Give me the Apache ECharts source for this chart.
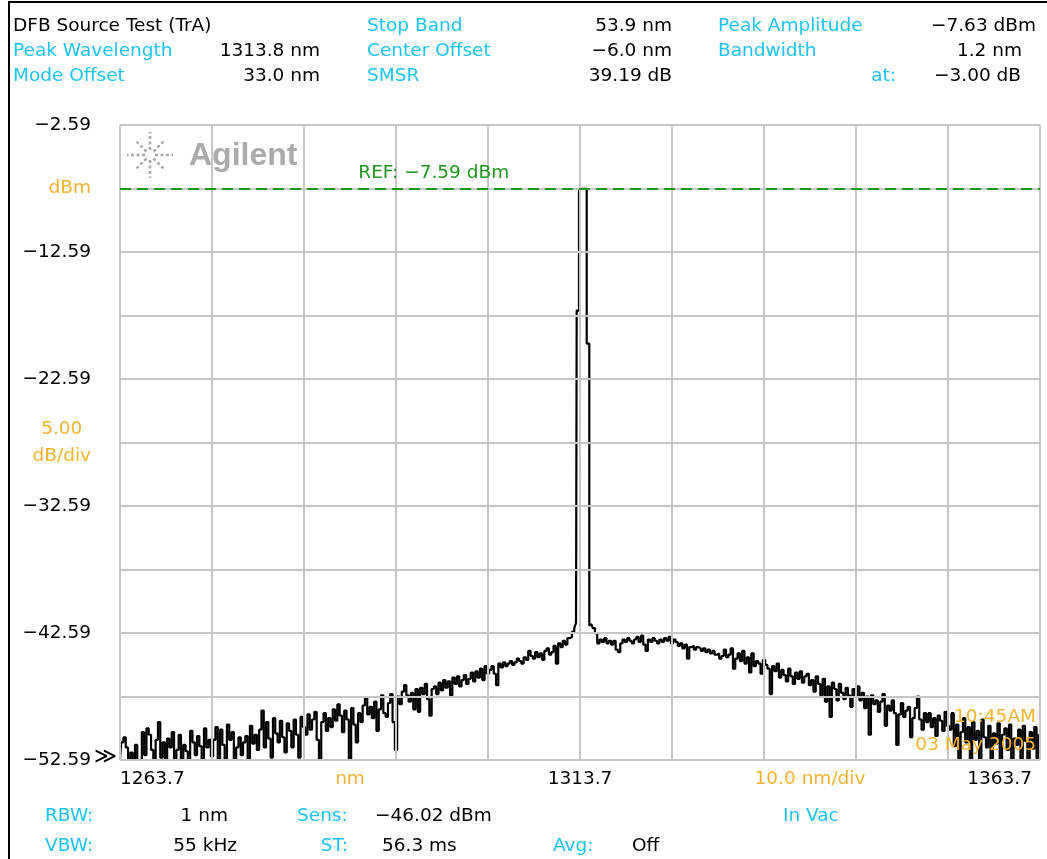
<!DOCTYPE html>
<html>
<head>
<meta charset="utf-8">
<script src="https://cdn.jsdelivr.net/npm/echarts@6/dist/echarts.min.js"></script>
<style>
  html, body { margin: 0; padding: 0; background: #fff; }
  #chart { width: 1047px; height: 859px; }
</style>
</head>
<body>
<div id="chart"></div>
<script>
// ---- axis definitions ----
const xMin = 1263.7, xMax = 1363.7;
const yMin = -52.59, yMax = -2.59;
const xGridTicks = [1263.7, 1273.7, 1283.7, 1293.7, 1303.7, 1313.7, 1323.7, 1333.7, 1343.7, 1353.7, 1363.7];
const yGridTicks = [-52.59, -47.59, -42.59, -37.59, -32.59, -27.59, -22.59, -17.59, -12.59, -7.59, -2.59];
const xLabelValues = [1263.7, 1288.7, 1313.7, 1338.7, 1363.7];
const xLabelTexts = ['1263.7', 'nm', '1313.7', '10.0 nm/div', '1363.7'];
const yLabelValues = [-52.59, -42.59, -32.59, -27.59, -22.59, -12.59, -7.59, -2.59];
const refLevel = -7.59;

// ---- trace data (dBm), sampled every 0.25 nm ----
const sampleStep = 0.25;
const leftStart = 1263.7;
const leftDb = [
  -52.6, -51.2, -50.8, -51.6, -52.6, -52.0, -52.6, -51.4, -52.6, -52.6,
  -50.4, -52.2, -50.1, -50.6, -51.8, -52.6, -51.0, -49.6, -52.4, -51.2,
  -52.6, -50.9, -51.6, -50.4, -52.6, -51.8, -50.6, -52.6, -51.4, -51.9,
  -52.6, -50.3, -51.2, -52.2, -50.7, -51.5, -52.6, -50.1, -51.6, -51.0,
  -52.3,
  -51.0, -50.0, -52.6, -50.2, -51.4, -52.6, -49.8, -51.0, -50.4, -52.6,
  -51.6, -50.8, -52.2, -51.2, -50.7, -52.6, -49.9, -51.3, -50.6, -51.8,
  -50.2, -48.7, -51.6, -49.6, -50.9, -52.4, -49.3, -50.5, -51.2, -49.5,
  -50.8, -52.0, -49.7, -50.3, -51.6, -49.4, -50.6, -52.4, -49.2, -50.0,
  -50.6, -49.0, -50.2, -49.4, -48.8, -51.0, -52.6, -49.6, -48.9, -50.3,
  -49.3, -50.0, -48.6, -49.5, -48.2, -49.1, -50.4, -48.7, -49.4, -52.6,
  -48.5, -49.8, -51.2, -48.9, -49.6, -48.3, -47.7, -49.0, -48.4, -49.3,
  -48.0, -50.3, -48.6, -47.5, -48.9, -49.2, -48.1, -47.4, -49.6, -51.8,
  -47.6, -48.2, -47.2, -46.7, -47.5, -48.0, -47.3, -48.6, -47.0, -48.8,
  -46.9, -47.4, -46.6, -47.8, -49.1, -47.0, -46.8, -47.4, -46.5, -47.1,
  -46.3, -46.9, -46.4, -47.5, -46.1, -46.6, -46.0, -46.8, -46.3, -45.9,
  -46.6, -46.2, -45.7, -46.4, -45.6, -46.1, -45.4, -46.3, -45.2, -45.8,
  -45.5, -45.2, -45.8, -46.7, -45.0, -45.3, -44.9, -45.2, -45.0, -44.8,
  -45.1, -44.9, -44.6, -44.8, -45.0, -44.5, -44.7, -44.0, -44.4, -44.6,
  -44.1, -44.5, -44.2, -44.7, -44.0, -43.8, -44.3, -44.1, -43.6, -45.0,
  -43.4, -43.7, -43.2, -43.5, -43.0, -42.9, -42.5, -42.2
];
const peakWl = [1313.34, 1313.34, 1313.59, 1313.59, 1314.43, 1314.43, 1314.71, 1314.71];
const peakDb = [-41.8, -17.2, -17.2, -7.62, -7.62, -19.8, -19.8, -42.0];
const rightStart = 1314.95;
const rightDb = [
  -41.9, -42.2, -42.6, -43.4, -43.1, -43.3, -43.0, -43.4, -43.2, -43.5,
  -43.2, -43.9, -44.1, -43.4, -43.1, -43.3, -43.0, -43.2, -43.4, -43.1,
  -42.9, -43.3, -42.8, -43.5, -44.0, -43.1, -43.3, -43.0, -43.2, -43.4,
  -43.1, -43.3, -43.0, -43.2, -42.9, -43.4, -43.1, -43.3, -43.6, -43.4,
  -43.8, -43.5, -44.6, -43.7, -43.6, -43.9, -43.7, -43.8, -44.0, -43.8,
  -44.1, -43.9, -44.2, -44.0, -44.3, -44.2, -44.6, -44.4, -43.9, -44.5,
  -44.3, -43.8, -45.4, -44.6, -44.2, -44.8, -44.0, -45.0, -44.5, -45.7,
  -44.2, -45.2, -44.8, -45.0, -45.8, -44.7, -45.1, -45.4, -47.4, -45.2,
  -45.6, -45.0, -46.1, -45.5, -45.9, -46.4, -45.4, -46.0, -46.6, -45.7,
  -46.2, -45.6, -46.5, -46.0, -45.8, -46.7, -46.3, -47.2, -46.0, -46.6,
  -47.5, -46.2, -48.0, -46.8, -49.2, -46.5, -47.0, -47.9, -46.6, -47.3,
  -47.8, -46.9, -47.5, -48.4, -47.0, -47.6,
  -46.8, -47.9, -47.3, -48.5, -47.6, -50.6, -47.5, -48.2, -47.9, -48.8,
  -48.0, -47.4, -49.9, -48.3, -48.7, -47.9, -48.9, -51.4, -49.0, -48.1,
  -49.2, -48.7, -48.4, -50.8, -49.3, -48.5, -47.6, -49.4, -50.2, -48.9,
  -49.6, -48.9, -50.0, -49.3, -50.7, -49.1, -49.5, -50.3, -48.8, -49.9,
  -50.2, -48.9, -51.5, -49.8, -52.6, -50.4, -49.3, -51.2, -50.0, -52.6,
  -49.6, -51.0, -50.3, -52.6, -49.4, -50.8, -51.6, -49.9, -52.6, -50.5,
  -51.3, -49.7, -52.6, -50.6, -50.1, -51.8, -49.8, -52.6, -50.9, -51.4,
  -50.2, -52.6, -49.9, -51.1, -52.6, -50.4, -51.7, -50.0, -52.6, -50.6
];

// ---- build trace ----
const trace = [];
leftDb.forEach((v, i) => trace.push([+(leftStart + i * sampleStep).toFixed(2), v]));
peakWl.forEach((w, i) => trace.push([w, peakDb[i]]));
rightDb.forEach((v, i) => trace.push([+(rightStart + i * sampleStep).toFixed(2), v]));

// ---- styling ----
const FONT = '"DejaVu Sans", sans-serif';
const FS = 18.5;
const CYAN = '#1cc3f2';
const ORANGE = '#f2b330';
const GREEN = '#1f961f';
const GRID = '#c6c6c6';
const fmtNum = s => String(s).replace('-', '\u2212');

function txt(text, x, y, color, align, extra) {
  return Object.assign({
    type: 'text', x: x, y: y, silent: true, z: 100,
    style: { text: text, fill: color, font: FS + 'px ' + FONT, align: align || 'left', verticalAlign: 'middle' }
  }, extra || {});
}

const graphics = [
  // frame
  { type: 'line', shape: { x1: 8, y1: 2, x2: 1047, y2: 2 }, style: { stroke: '#000', lineWidth: 2 } },
  { type: 'line', shape: { x1: 9, y1: 2, x2: 9, y2: 859 }, style: { stroke: '#000', lineWidth: 2 } },
  // header
  txt('DFB Source Test (TrA)', 13, 26, '#000'),
  txt('Stop Band', 367, 26, CYAN),
  txt('53.9 nm', 672, 26, '#000', 'right'),
  txt('Peak Amplitude', 718, 26, CYAN),
  txt('\u22127.63 dBm', 1036, 26, '#000', 'right'),
  txt('Peak Wavelength', 13, 51, CYAN),
  txt('1313.8 nm', 320, 51, '#000', 'right'),
  txt('Center Offset', 367, 51, CYAN),
  txt('\u22126.0 nm', 672, 51, '#000', 'right'),
  txt('Bandwidth', 718, 51, CYAN),
  txt('1.2 nm', 1022, 51, '#000', 'right'),
  txt('Mode Offset', 13, 76, CYAN),
  txt('33.0 nm', 320, 76, '#000', 'right'),
  txt('SMSR', 367, 76, CYAN),
  txt('39.19 dB', 672, 76, '#000', 'right'),
  txt('at:', 896, 76, CYAN, 'right'),
  txt('\u22123.00 dB', 1021, 76, '#000', 'right'),
  // footer
  txt('RBW:', 45, 816, CYAN),
  txt('1 nm', 228, 816, '#000', 'right'),
  txt('Sens:', 297, 816, CYAN),
  txt('\u221246.02 dBm', 375, 816, '#000'),
  txt('In Vac', 783, 816, CYAN),
  txt('VBW:', 45, 846, CYAN),
  txt('55 kHz', 237, 846, '#000', 'right'),
  txt('ST:', 348, 846, CYAN, 'right'),
  txt('56.3 ms', 382, 846, '#000'),
  txt('Avg:', 553, 846, CYAN),
  txt('Off', 632, 846, '#000'),
  // arrows next to bottom label
  { type: 'text', x: 94, y: 757, silent: true, z: 100,
    style: { text: '\u226B', fill: '#000', font: '22px ' + FONT, align: 'left', verticalAlign: 'middle' } },
  // timestamp
  txt('10:45AM', 1036, 717, ORANGE, 'right'),
  txt('03 May 2005', 1036, 745, ORANGE, 'right'),
  // logo text
  { type: 'text', x: 189, y: 156, silent: true, z: 5,
    style: { text: 'Agilent', fill: '#ababab', font: 'bold 32px "Liberation Sans", Arial, sans-serif', align: 'left', verticalAlign: 'middle' } }
];
// logo star rays
const starCx = 150, starCy = 155;
for (let k = 0; k < 8; k++) {
  const a = k * Math.PI / 4;
  const r0 = 5, r1 = (k % 2 === 0) ? 23 : 20;
  graphics.push({
    type: 'line', silent: true, z: 5,
    shape: { x1: starCx + r0 * Math.cos(a), y1: starCy + r0 * Math.sin(a), x2: starCx + r1 * Math.cos(a), y2: starCy + r1 * Math.sin(a) },
    style: { stroke: '#a9a9a9', lineWidth: 2.6, lineDash: [3, 2.5] }
  });
}

const chart = echarts.init(document.getElementById('chart'), null, { renderer: 'canvas' });
chart.setOption({
  animation: false,
  backgroundColor: '#fff',
  textStyle: { fontFamily: FONT },
  grid: { left: 120, top: 125, width: 920, height: 635, containLabel: false },
  xAxis: {
    type: 'value', min: xMin, max: xMax,
    axisLine: { show: false }, axisTick: { show: false }, splitLine: { show: false },
    axisLabel: {
      show: true, customValues: xLabelValues, margin: 10,
      alignMinLabel: 'left', alignMaxLabel: 'right',
      fontFamily: FONT, fontSize: FS, color: '#000',
      formatter: function (v) {
        const i = xLabelValues.findIndex(t => Math.abs(t - v) < 1e-6);
        if (i < 0) return '';
        const t = xLabelTexts[i];
        if (i === 1 || i === 3) return '{o|' + t + '}';
        if (i === 4) return '{r|' + t + '}';
        if (i === 0) return '{l|' + t + '}';
        return '{k|' + t + '}';
      },
      rich: {
        o: { color: ORANGE, fontSize: FS, fontFamily: FONT },
        k: { color: '#000', fontSize: FS, fontFamily: FONT },
        l: { color: '#000', fontSize: FS, fontFamily: FONT },
        r: { color: '#000', fontSize: FS, fontFamily: FONT, padding: [0, 8, 0, 0] }
      }
    }
  },
  yAxis: {
    type: 'value', min: yMin, max: yMax,
    axisLine: { show: false }, axisTick: { show: false }, splitLine: { show: false },
    axisLabel: {
      show: true, customValues: yLabelValues, margin: 29,
      fontFamily: FONT, fontSize: FS, color: '#000',
      formatter: function (v) {
        if (Math.abs(v - refLevel) < 1e-6) return '{o|dBm}';
        if (Math.abs(v + 27.59) < 1e-6) return '{c|5.00}\n{o|dB/div}';
        return '{k|' + fmtNum(v.toFixed(2)) + '}';
      },
      rich: {
        o: { color: ORANGE, fontSize: FS, fontFamily: FONT, lineHeight: 27 },
        c: { color: ORANGE, fontSize: FS, fontFamily: FONT, lineHeight: 27, align: 'center' },
        k: { color: '#000', fontSize: FS, fontFamily: FONT }
      }
    }
  },
  series: [
    {
      name: 'grid', type: 'line', z: 1, silent: true,
      data: [[xMin, yMin]], showSymbol: false, lineStyle: { opacity: 0 },
      markLine: {
        silent: true, symbol: ['none', 'none'], animation: false,
        label: { show: false },
        lineStyle: { color: GRID, width: 2, type: 'solid' },
        data: xGridTicks.map(v => ({ xAxis: v })).concat(yGridTicks.map(v => ({ yAxis: v })))
      }
    },
    {
      name: 'ref', type: 'line', z: 2, silent: true,
      data: [[xMin, refLevel]], showSymbol: false, lineStyle: { opacity: 0 },
      markLine: {
        silent: true, symbol: ['none', 'none'], animation: false,
        label: { show: false },
        lineStyle: { color: GREEN, width: 1.8, type: [11, 6] },
        data: [{ yAxis: refLevel }]
      },
      markPoint: {
        silent: true, symbol: 'circle', symbolSize: 0, animation: false,
        label: { show: true, formatter: 'REF: \u22127.59 dBm', color: GREEN, fontSize: FS, fontFamily: FONT, offset: [0, -15] },
        data: [{ coord: [1297.8, refLevel] }]
      }
    },
    {
      name: 'trace', type: 'line', z: 3,
      data: trace, showSymbol: false, step: 'middle',
      lineStyle: { color: '#000', width: 2.2 },
      clip: true
    }
  ],
  graphic: { elements: graphics }
});
</script>
</body>
</html>
